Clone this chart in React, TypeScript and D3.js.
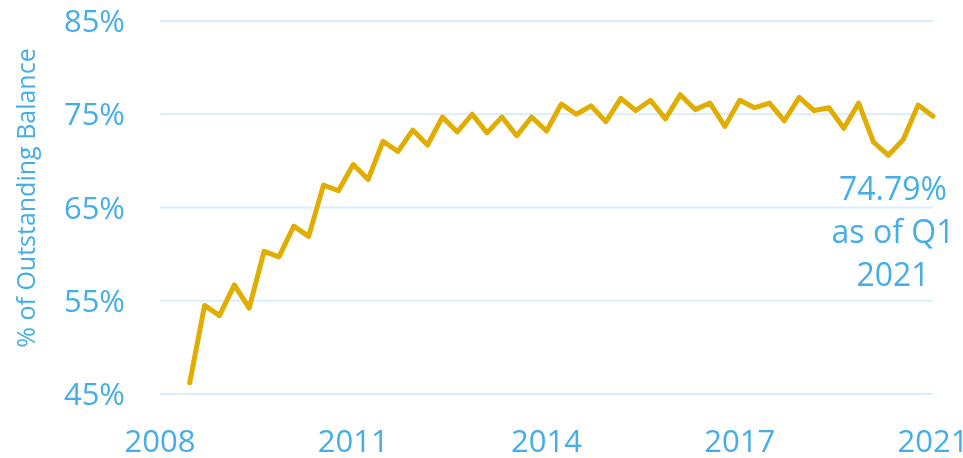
import React from "react";
import * as d3 from "d3";

// quarterly categories, Q1 2008 .. Q1 2021
const quarters: string[] = [];
for (let yr = 2008; yr <= 2021; yr++) {
  for (let q = 1; q <= 4; q++) {
    if (yr === 2021 && q > 1) break;
    quarters.push(`${yr} Q${q}`);
  }
}

// series starts at Q3 2008
const firstQuarter = "2008 Q3";
const shareValues = [
  46.2, 54.5, 53.4, 56.7, 54.2, 60.3, 59.7, 63.0, 61.9, 67.4, 66.8, 69.6, 68.0,
  72.1, 71.0, 73.3, 71.7, 74.7, 73.1, 75.0, 73.0, 74.7, 72.7, 74.7, 73.2, 76.1,
  75.0, 75.9, 74.2, 76.7, 75.4, 76.5, 74.5, 77.1, 75.5, 76.2, 73.7, 76.5, 75.7,
  76.2, 74.3, 76.8, 75.4, 75.7, 73.5, 76.2, 72.0, 70.6, 72.3, 76.0, 74.79,
];

const xTickQuarters = ["2008 Q1", "2011 Q2", "2014 Q3", "2017 Q4", "2021 Q1"];
const xTickLabels = ["2008", "2011", "2014", "2017", "2021"];
const yTicks = [45, 55, 65, 75, 85];
const noteLines = ["74.79%", "as of Q1", "2021"];

const width = 963;
const height = 458;
const margin = { top: 21, right: 30, bottom: 64, left: 160 };

const BLUE = "#45aee8";
const GOLD = "#e1ad00";
const GRID = "#d8eefa";
const FONT = "'Open Sans', sans-serif";

export default function App() {
  const startIdx = quarters.indexOf(firstQuarter);
  const data = shareValues.map((v, i) => ({ q: quarters[startIdx + i], v }));

  const x = d3
    .scalePoint<string>()
    .domain(quarters)
    .range([margin.left, width - margin.right]);
  const y = d3
    .scaleLinear()
    .domain([45, 85])
    .range([height - margin.bottom, margin.top]);

  const line = d3
    .line<{ q: string; v: number }>()
    .x((d) => x(d.q) as number)
    .y((d) => y(d.v));

  const last = data[data.length - 1];
  const noteX = (x(last.q) as number) - 40;

  return (
    <div style={{ position: "fixed", left: 0, top: 0 }}>
      <svg width={width} height={height} style={{ display: "block" }}>
        {/* gridlines */}
        {yTicks.map((t) => (
          <line
            key={t}
            x1={margin.left}
            x2={width - margin.right}
            y1={y(t)}
            y2={y(t)}
            stroke={GRID}
            strokeWidth={2}
          />
        ))}
        {/* y tick labels */}
        {yTicks.map((t) => (
          <text
            key={"l" + t}
            x={125}
            y={y(t)}
            dy="0.36em"
            textAnchor="end"
            fill={BLUE}
            fontFamily={FONT}
            fontSize={31}
          >
            {t}%
          </text>
        ))}
        {/* x tick labels */}
        {xTickQuarters.map((q, i) => (
          <text
            key={q}
            x={x(q) as number}
            y={452}
            textAnchor="middle"
            fill={BLUE}
            fontFamily={FONT}
            fontSize={31}
          >
            {xTickLabels[i]}
          </text>
        ))}
        {/* y axis title */}
        <text
          transform={`translate(35,198) rotate(-90)`}
          textAnchor="middle"
          fill={BLUE}
          fontFamily={FONT}
          fontSize={25}
        >
          % of Outstanding Balance
        </text>
        {/* series */}
        <path
          d={line(data) ?? ""}
          fill="none"
          stroke={GOLD}
          strokeWidth={5}
          strokeLinejoin="round"
          strokeLinecap="round"
        />
        {/* annotation */}
        {noteLines.map((s, i) => (
          <text
            key={s}
            x={noteX}
            y={200 + i * 43}
            textAnchor="middle"
            fill={BLUE}
            fontFamily={FONT}
            fontSize={32}
          >
            {s}
          </text>
        ))}
      </svg>
    </div>
  );
}
